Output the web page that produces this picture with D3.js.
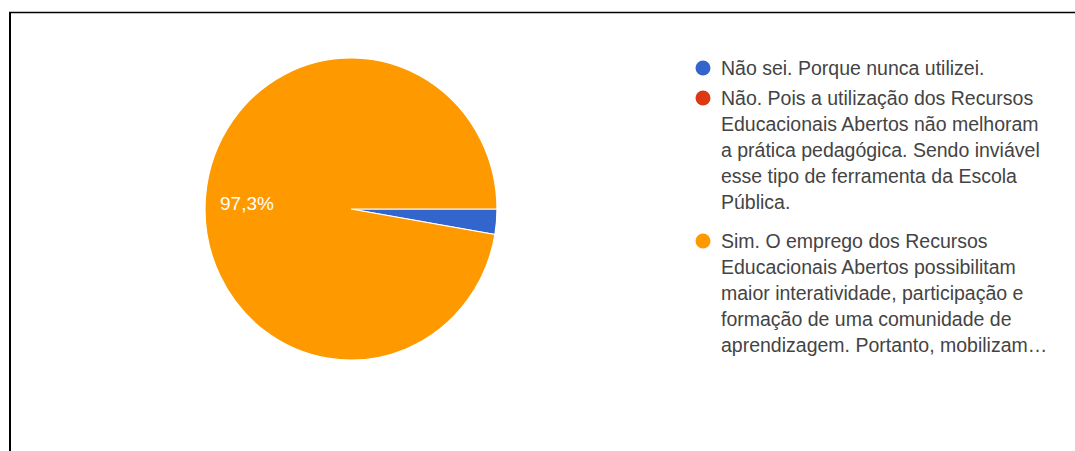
<!DOCTYPE html>
<html>
<head>
<meta charset="utf-8">
<script src="https://cdn.jsdelivr.net/npm/d3@7"></script>
<style>
  html, body { margin: 0; padding: 0; background: #fff; }
  svg { display: block; }
</style>
</head>
<body>
<svg id="chart" width="1075" height="451"></svg>
<script>
// Answer categories (legend lines pre-wrapped as in the form summary)
const categories = [
  "Não sei. Porque nunca utilizei.",
  "Não. Pois a utilização dos Recursos Educacionais Abertos não melhoram a prática pedagógica. Sendo inviável esse tipo de ferramenta da Escola Pública.",
  "Sim. O emprego dos Recursos Educacionais Abertos possibilitam maior interatividade, participação e formação de uma comunidade de aprendizagem. Portanto, mobilizam…"
];
const legendLines = [
  ["Não sei. Porque nunca utilizei."],
  ["Não. Pois a utilização dos Recursos", "Educacionais Abertos não melhoram", "a prática pedagógica. Sendo inviável", "esse tipo de ferramenta da Escola", "Pública."],
  ["Sim. O emprego dos Recursos", "Educacionais Abertos possibilitam", "maior interatividade, participação e", "formação de uma comunidade de", "aprendizagem. Portanto, mobilizam…"]
];
// Share of responses, in percent
const values = [2.7, 0, 97.3];
const colors = ["#3366cc", "#dc3912", "#ff9900"];

const svg = d3.select("#chart");

// Frame around the chart
svg.append("line").attr("x1", 9).attr("x2", 1075).attr("y1", 12.5).attr("y2", 12.5)
  .attr("stroke", "#000").attr("stroke-width", 1.5);
svg.append("line").attr("x1", 10).attr("x2", 10).attr("y1", 12).attr("y2", 451)
  .attr("stroke", "#000").attr("stroke-width", 2);

// Pie
const cx = 351, cy = 209, r = 146;
const color = d3.scaleOrdinal().domain(categories).range(colors);
const pie = d3.pie().sort(null).value(d => d.v)
  .startAngle(Math.PI / 2).endAngle(Math.PI / 2 + 2 * Math.PI);
const data = categories.map((c, i) => ({ c, v: values[i] }));
const arcs = pie(data);
const arc = d3.arc().innerRadius(0).outerRadius(r);

const g = svg.append("g").attr("transform", `translate(${cx},${cy}) scale(1,1.035)`);
g.selectAll("path").data(arcs.filter(a => a.data.v > 0)).join("path")
  .attr("d", arc)
  .attr("fill", d => color(d.data.c))
  .attr("stroke", "#fff").attr("stroke-width", 1.2);

// Percentage label on the large slice
const fmt = v => v.toFixed(1).replace(".", ",") + "%";
arcs.filter(a => a.data.v > 10).forEach(a => {
  svg.append("text")
    .attr("x", 220).attr("y", 210)
    .attr("font-family", "Liberation Sans, Arial, sans-serif")
    .attr("font-size", 19)
    .attr("fill", "#fff")
    .text(fmt(a.data.v));
});

// Legend
const lineH = 26;
const starts = [68, 98, 241];
const lg = svg.append("g").attr("font-family", "Liberation Sans, Arial, sans-serif")
  .attr("font-size", 19.5).attr("fill", "#444");
categories.forEach((c, i) => {
  lg.append("circle").attr("cx", 703).attr("cy", starts[i]).attr("r", 7.5)
    .attr("fill", color(c));
  legendLines[i].forEach((t, j) => {
    lg.append("text").attr("x", 721).attr("y", starts[i] + j * lineH)
      .attr("dy", "0.35em").text(t);
  });
});
</script>
</body>
</html>
